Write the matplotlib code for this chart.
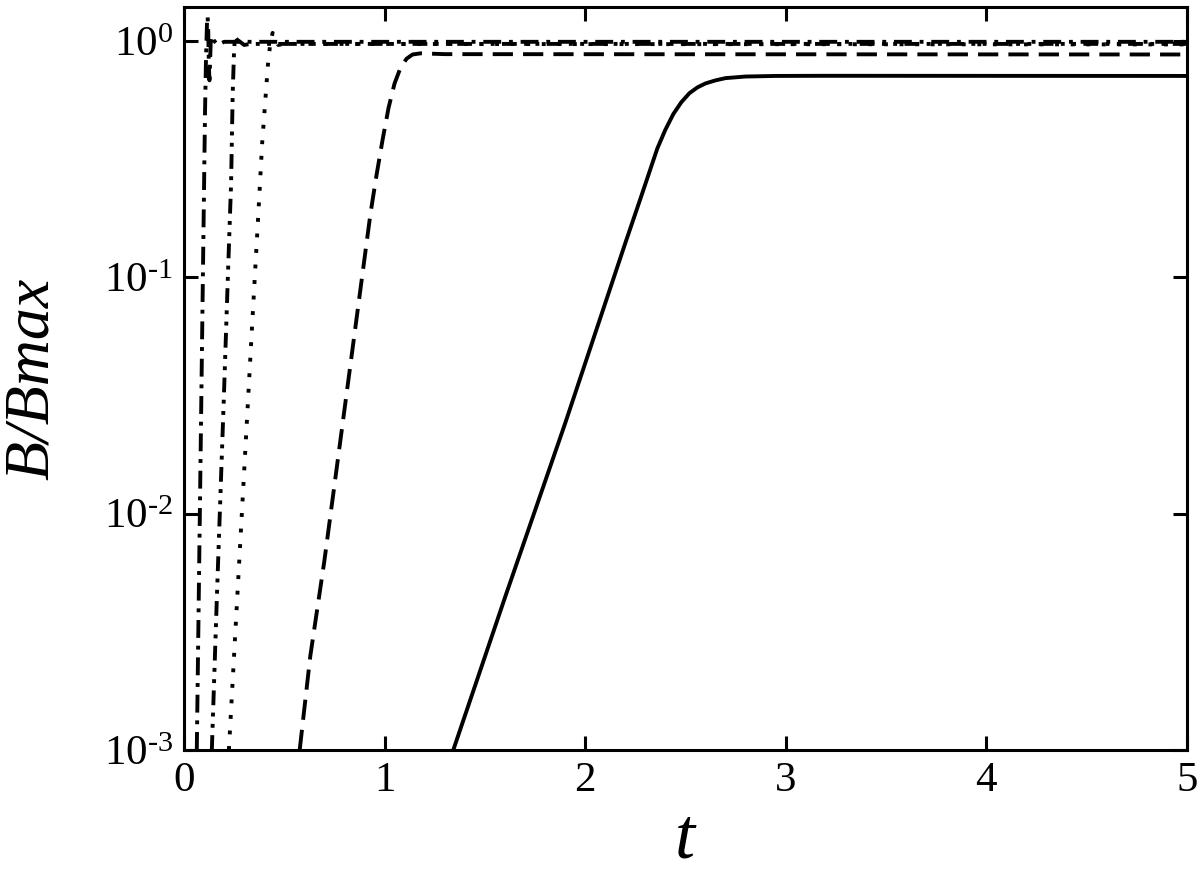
import matplotlib
matplotlib.use("Agg")
import matplotlib.pyplot as plt
from matplotlib.ticker import FixedLocator, FixedFormatter

plt.rcParams['font.family'] = ['Liberation Serif', 'DejaVu Serif']
plt.rcParams['mathtext.fontset'] = 'custom'
plt.rcParams['mathtext.rm'] = 'Liberation Serif'
plt.rcParams['mathtext.it'] = 'Liberation Serif:italic'

# values
solid_t = [1.343, 1.6, 1.9, 2.2, 2.28, 2.36, 2.40, 2.44, 2.48, 2.52, 2.56, 2.6, 2.65, 2.7, 2.8, 2.95, 3.2, 5.0]
solid_B = [1.0e-3, 4.4e-3, 0.024, 0.139, 0.22, 0.35, 0.42, 0.49, 0.55, 0.60, 0.635, 0.66, 0.68, 0.695, 0.706, 0.71, 0.711, 0.71]

dash_t = [0.577, 0.63, 0.7, 0.8, 0.88, 0.93, 0.96, 0.99, 1.02, 1.05, 1.08, 1.11, 1.14, 1.18, 1.3, 5.0]
dash_B = [1.0e-3, 2.5e-3, 6.3e-3, 0.0274, 0.089, 0.186, 0.27, 0.38, 0.52, 0.66, 0.77, 0.84, 0.875, 0.885, 0.878, 0.875]

dot_t = [0.224, 0.26, 0.3, 0.34, 0.37, 0.39, 0.405, 0.418, 0.43, 0.442, 0.455, 0.47, 0.5, 5.0]
dot_B = [1.0e-3, 3.6e-3, 0.015, 0.063, 0.18, 0.37, 0.55, 0.78, 0.97, 1.08, 1.03, 0.96, 0.97, 0.965]

ddot_t = [0.139, 0.164, 0.2, 0.22, 0.235, 0.243, 0.25, 0.255, 0.265, 0.28, 0.3, 0.33, 5.0]
ddot_B = [1.0e-3, 4.4e-3, 0.033, 0.107, 0.25, 0.6, 0.92, 1.04, 1.01, 0.99, 0.96, 0.97, 0.97]

dashdot_t = [0.064, 0.08, 0.095, 0.105, 0.11, 0.115, 0.118, 0.121, 0.124, 0.127, 0.13, 0.134, 0.14, 0.15, 0.17, 0.2, 5.0]
dashdot_B = [1.0e-3, 0.0113, 0.11, 0.5, 0.85, 1.2, 1.27, 1.1, 0.8, 0.68, 0.8, 1.02, 1.05, 1.0, 0.96, 0.99, 0.99]

xticks = [0, 1, 2, 3, 4, 5]
yticks = [1e-3, 1e-2, 1e-1, 1e0]
ylabels = [r'$10^{\text{-3}}$', r'$10^{\text{-2}}$', r'$10^{\text{-1}}$', r'$10^{0}$']

fig = plt.figure(figsize=(12, 8.72), dpi=100)
ax = fig.add_axes([0.1533, 0.140, 0.8357, 0.852])

lw = 2.8
ax.plot(solid_t, solid_B, color='black', lw=lw, linestyle='-')
ax.plot(dash_t, dash_B, color='black', lw=lw, dashes=(5.2, 2.6))
ax.plot(dot_t, dot_B, color='black', lw=lw, dashes=(1, 3))
ax.plot(ddot_t, ddot_B, color='black', lw=lw, dashes=(3.8, 1.9, 1, 1.9, 1, 1.9))
ax.plot(dashdot_t, dashdot_B, color='black', lw=lw, dashes=(4.6, 2, 1, 2))

ax.set_yscale('log')
ax.set_xlim(0, 5)
ax.set_ylim(1e-3, 1.39)

ax.xaxis.set_major_locator(FixedLocator(xticks))
ax.set_xticklabels([str(v) for v in xticks])
ax.yaxis.set_major_locator(FixedLocator(yticks))
ax.yaxis.set_major_formatter(FixedFormatter(ylabels))
ax.yaxis.set_minor_locator(FixedLocator([]))
ax.xaxis.set_minor_locator(FixedLocator([]))

ax.tick_params(which='major', direction='in', length=10, width=2.2,
               top=True, right=True, labelsize=31, pad=8)
for s in ax.spines.values():
    s.set_linewidth(2.2)

ax.set_xlabel('t', fontsize=52, style='italic', labelpad=6)
ax.set_ylabel('B/Bmax', fontsize=46, style='italic', labelpad=30)

fig.savefig('out.png', dpi=100)
